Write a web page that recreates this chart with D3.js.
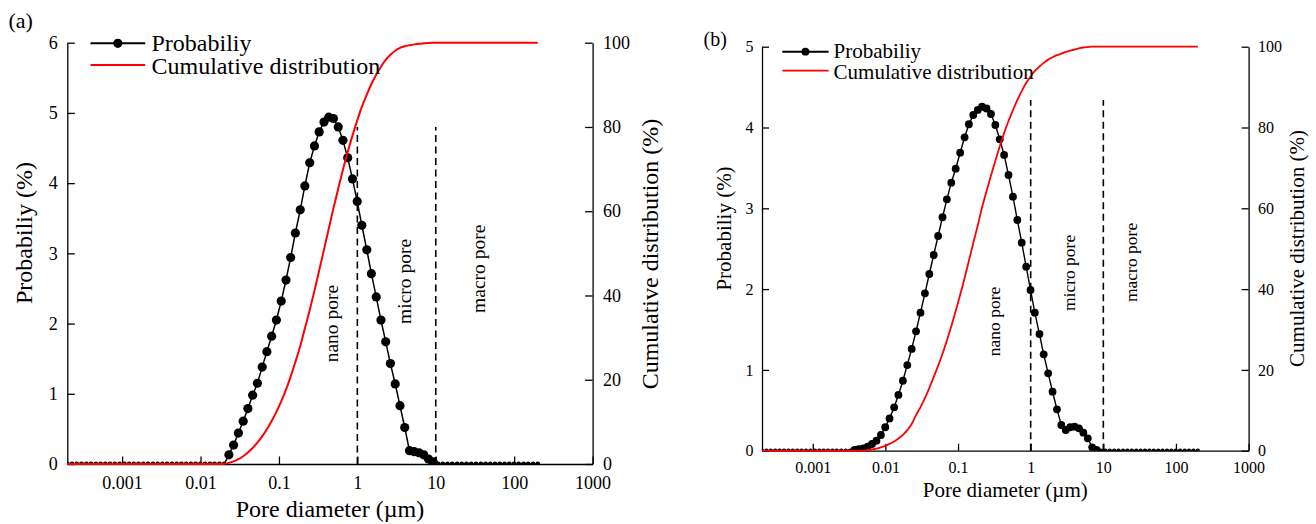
<!DOCTYPE html>
<html>
<head>
<meta charset="utf-8">
<script src="https://cdn.jsdelivr.net/npm/d3@7"></script>
<style>
  body { margin: 0; background: #fff; }
  svg { display: block; }
  text { font-family: "Liberation Serif", "Times New Roman", serif; fill: #000; }
</style>
</head>
<body>
<svg id="chart" width="1316" height="524"></svg>
<script>
// Pore-size bins (µm), 100 log-spaced bins shared by both samples
const poreDiameter = [
  0.0002, 0.00023, 0.000264, 0.000304, 0.00035, 0.000402, 0.000462, 0.000531, 0.000611, 0.000702,
  0.000807, 0.000928, 0.00107, 0.00123, 0.00141, 0.00162, 0.00187, 0.00214, 0.00247, 0.00284,
  0.00326, 0.00375, 0.00431, 0.00495, 0.0057, 0.00655, 0.00753, 0.00866, 0.00995, 0.0114,
  0.0132, 0.0151, 0.0174, 0.02, 0.023, 0.0264, 0.0304, 0.035, 0.0402, 0.0462,
  0.0531, 0.0611, 0.0702, 0.0807, 0.0928, 0.107, 0.123, 0.141, 0.162, 0.187,
  0.214, 0.247, 0.284, 0.326, 0.375, 0.431, 0.495, 0.57, 0.655, 0.753,
  0.866, 0.995, 1.14, 1.32, 1.51, 1.74, 2, 2.3, 2.64, 3.04,
  3.5, 4.02, 4.62, 5.31, 6.11, 7.02, 8.07, 9.28, 10.7, 12.3,
  14.1, 16.2, 18.7, 21.4, 24.7, 28.4, 32.6, 37.5, 43.1, 49.5,
  57, 65.5, 75.3, 86.6, 99.5, 114, 132, 151, 174, 200
];

// Sample (a): probability per bin (%)
const probabilityA = [
  0, 0, 0, 0, 0, 0, 0, 0, 0, 0,
  0, 0, 0, 0, 0, 0, 0, 0, 0, 0,
  0, 0, 0, 0, 0, 0, 0, 0, 0, 0,
  0, 0, 0, 0, 0.13, 0.27, 0.44, 0.61, 0.79, 0.98,
  1.15, 1.38, 1.60, 1.82, 2.05, 2.32, 2.62, 2.94, 3.29, 3.62,
  3.96, 4.29, 4.53, 4.73, 4.87, 4.94, 4.92, 4.80, 4.61, 4.36,
  4.06, 3.74, 3.40, 3.05, 2.71, 2.38, 2.05, 1.74, 1.43, 1.14,
  0.83, 0.52, 0.19, 0.175, 0.16, 0.13, 0.07, 0.03, 0, 0,
  0, 0, 0, 0, 0, 0, 0, 0, 0, 0,
  0, 0, 0, 0, 0, 0, 0, 0, 0, 0
];

// Sample (a): cumulative distribution (%)
const cumulativeA = [
  0, 0, 0, 0, 0, 0, 0, 0, 0, 0,
  0, 0, 0, 0, 0, 0, 0, 0, 0, 0,
  0, 0, 0, 0, 0, 0, 0, 0, 0, 0,
  0, 0, 0, 0.07, 0.27, 0.62, 1.15, 1.85, 2.73, 3.8,
  5.06, 6.55, 8.26, 10.2, 12.38, 14.85, 17.63, 20.75, 24.2, 28.0,
  32.15, 36.55, 41.15, 45.95, 50.85, 55.8, 60.65, 65.35, 69.85, 74.05,
  77.95, 81.5, 84.75, 87.65, 90.2, 92.4, 94.3, 95.9, 97.15, 98.1,
  98.75, 99.15, 99.4, 99.6, 99.75, 99.85, 99.95, 100, 100, 100,
  100, 100, 100, 100, 100, 100, 100, 100, 100, 100,
  100, 100, 100, 100, 100, 100, 100, 100, 100, 100
];

// Sample (b): probability per bin (%)
const probabilityB = [
  0, 0, 0, 0, 0, 0, 0, 0, 0, 0,
  0, 0, 0, 0, 0, 0, 0, 0, 0, 0,
  0, 0.01, 0.02, 0.03, 0.05, 0.083, 0.124, 0.194, 0.29, 0.40,
  0.537, 0.69, 0.866, 1.06, 1.26, 1.478, 1.708, 1.948, 2.187, 2.422,
  2.657, 2.889, 3.111, 3.317, 3.49, 3.688, 3.879, 4.04, 4.155, 4.217,
  4.257, 4.235, 4.167, 4.031, 3.854, 3.66, 3.412, 3.144, 2.855, 2.574,
  2.277, 1.989, 1.708, 1.444, 1.193, 0.958, 0.73, 0.512, 0.318, 0.256,
  0.29, 0.297, 0.277, 0.223, 0.153, 0.042, 0.01, 0, 0, 0,
  0, 0, 0, 0, 0, 0, 0, 0, 0, 0,
  0, 0, 0, 0, 0, 0, 0, 0, 0, 0
];

// Sample (b): cumulative distribution (%)
const cumulativeB = [
  0, 0, 0, 0, 0, 0, 0, 0, 0, 0,
  0, 0, 0, 0, 0, 0, 0, 0, 0, 0,
  0, 0, 0, 0.05, 0.15, 0.3, 0.5, 0.8, 1.2, 1.7,
  2.3, 3.0, 3.9, 5.1, 6.6, 8.8, 10.8, 13.0, 15.5, 18.2,
  21.0, 24.0, 27.3, 30.8, 34.6, 38.6, 42.7, 47.0, 51.4, 55.8,
  60.2, 64.3, 68.1, 71.8, 75.3, 78.6, 81.6, 84.3, 86.8, 89.0,
  91.0, 92.6, 94.0, 95.1, 96.0, 96.8, 97.4, 97.9, 98.3, 98.7,
  99.0, 99.3, 99.6, 99.8, 99.9, 100, 100, 100, 100, 100,
  100, 100, 100, 100, 100, 100, 100, 100, 100, 100,
  100, 100, 100, 100, 100, 100, 100, 100, 100, 100
];

const diameterTicks = [0.001, 0.01, 0.1, 1, 10, 100, 1000];
const diameterTickLabels = ["0.001", "0.01", "0.1", "1", "10", "100", "1000"];
const probabilityTicksA = [0, 1, 2, 3, 4, 5, 6];
const probabilityTicksB = [0, 1, 2, 3, 4, 5];
const cumulativeTicks = [0, 20, 40, 60, 80, 100];

// Pore classes: boundaries at 1 µm and 10 µm
const poreClassBounds = [1, 10];
const poreClassNames = ["nano pore", "micro pore", "macro pore"];
const seriesNames = ["Probabiliy", "Cumulative distribution"];
const xTitle = "Pore diameter (µm)";
const yTitleLeft = "Probabiliy (%)";
const yTitleRight = "Cumulative distribution (%)";

const panels = [
  {
    letter: "(a)", prob: probabilityA, cum: cumulativeA,
    probMax: 6, probTicks: probabilityTicksA, boundTop: 4.8,
    classLabelAt: [[0.5, 2.0], [4.2, 2.6], [37, 2.78]],
    box: { l: 67.3, r: 592.6, t: 42.7, b: 464 },
    tickFont: 18, titleFont: 24, classFont: 19.5, letterFont: 22,
    tickLen: 7.5, xPad: 12.5, yPadL: 9.5, yPadR: 10.5,
    dotR: 4.6, zeroR: 2.4, probW: 1.5, cumW: 2,
    letterPos: [8.4, 27.7],
    xTitlePos: 516.7, yTitleL: [31.6, 233], yTitleR: [657.5, 254],
    legend: { x1: 90.5, x2: 145.2, xt: 151.5, y1: 43.3, y2: 65, b1: 50.7, b2: 74 }
  },
  {
    letter: "(b)", prob: probabilityB, cum: cumulativeB,
    probMax: 5, probTicks: probabilityTicksB, boundTop: 4.34,
    classLabelAt: [[0.33, 1.6], [3.54, 2.2], [26, 2.33]],
    box: { l: 762, r: 1248.6, t: 46.7, b: 450.7 },
    tickFont: 16, titleFont: 21, classFont: 17.5, letterFont: 20,
    tickLen: 7, xPad: 10.6, yPadL: 8.4, yPadR: 9.5,
    dotR: 3.9, zeroR: 2.2, probW: 1.4, cumW: 1.8,
    letterPos: [703.6, 46],
    xTitlePos: 497.3, yTitleL: [731, 228.5], yTitleR: [1304, 248.5],
    legend: { x1: 782.3, x2: 828.6, xt: 833.6, y1: 51.7, y2: 70.7, b1: 58.3, b2: 79 }
  }
];

const svg = d3.select("#chart");
svg.append("rect").attr("width", 1316).attr("height", 524).attr("fill", "#fff");

panels.forEach((p, pi) => {
  const { l, r, t, b } = p.box;
  const x = d3.scaleLog().domain([0.0002, 1000]).range([l, r]);
  const yP = d3.scaleLinear().domain([0, p.probMax]).range([b, t]);
  const yC = d3.scaleLinear().domain([0, 100]).range([b, t]);
  const g = svg.append("g");

  const styleAxis = (sel, fs) => {
    sel.attr("font-family", '"Liberation Serif", "Times New Roman", serif').attr("font-size", fs);
    sel.selectAll("path.domain").attr("stroke", "#000").attr("stroke-width", 1.3);
    sel.selectAll(".tick line").attr("stroke", "#000").attr("stroke-width", 1.3);
    sel.selectAll(".tick text").attr("fill", "#000");
  };

  // axes (ticks point inward)
  g.append("g").attr("transform", `translate(0,${b})`)
    .call(d3.axisBottom(x).tickValues(diameterTicks)
      .tickFormat((d, i) => diameterTickLabels[i])
      .tickSizeInner(-p.tickLen).tickSizeOuter(0).tickPadding(p.xPad))
    .call(s => styleAxis(s, p.tickFont));

  g.append("g").attr("transform", `translate(${l},0)`)
    .call(d3.axisLeft(yP).tickValues(p.probTicks).tickFormat(d3.format("d"))
      .tickSizeInner(-p.tickLen).tickSizeOuter(0).tickPadding(p.yPadL))
    .call(s => styleAxis(s, p.tickFont));

  g.append("g").attr("transform", `translate(${r},0)`)
    .call(d3.axisRight(yC).tickValues(cumulativeTicks).tickFormat(d3.format("d"))
      .tickSizeInner(-p.tickLen).tickSizeOuter(0).tickPadding(p.yPadR))
    .call(s => styleAxis(s, p.tickFont));

  // pore-class boundaries
  g.selectAll("line.bound").data(poreClassBounds).join("line")
    .attr("class", "bound")
    .attr("x1", d => x(d)).attr("x2", d => x(d))
    .attr("y1", yP(0)).attr("y2", yP(p.boundTop))
    .attr("stroke", "#000").attr("stroke-width", 1.6)
    .attr("stroke-dasharray", "7,4.5");

  const clipId = "plotclip" + pi;
  svg.append("clipPath").attr("id", clipId).append("rect")
    .attr("x", l).attr("y", t - 20).attr("width", r - l).attr("height", b - t + 20);

  const rows = poreDiameter.map((d, i) => ({ d, prob: p.prob[i], cum: p.cum[i] }));

  // probability series
  const plot = g.append("g").attr("clip-path", `url(#${clipId})`);
  plot.append("path").datum(rows)
    .attr("fill", "none").attr("stroke", "#000").attr("stroke-width", p.probW)
    .attr("d", d3.line().x(d => x(d.d)).y(d => yP(d.prob)));
  plot.selectAll("circle").data(rows).join("circle")
    .attr("cx", d => x(d.d)).attr("cy", d => yP(d.prob))
    .attr("r", d => d.prob > 0 ? p.dotR : p.zeroR)
    .attr("fill", "#000");

  // cumulative distribution
  g.append("path").datum(rows)
    .attr("fill", "none").attr("stroke", "#ff0000").attr("stroke-width", p.cumW)
    .attr("d", d3.line().curve(d3.curveMonotoneX).x(d => x(d.d)).y(d => yC(d.cum)));

  // pore-class labels
  g.selectAll("text.cls").data(poreClassNames).join("text")
    .attr("class", "cls")
    .attr("transform", (d, i) => `translate(${x(p.classLabelAt[i][0])},${yP(p.classLabelAt[i][1])}) rotate(-90)`)
    .attr("text-anchor", "middle").attr("dominant-baseline", "middle")
    .attr("font-size", p.classFont)
    .text(d => d);

  // titles
  g.append("text").attr("x", (l + r) / 2).attr("y", p.xTitlePos)
    .attr("text-anchor", "middle").attr("font-size", p.titleFont).text(xTitle);
  g.append("text").attr("transform", `translate(${p.yTitleL[0]},${p.yTitleL[1]}) rotate(-90)`)
    .attr("text-anchor", "middle").attr("font-size", p.titleFont).text(yTitleLeft);
  g.append("text").attr("transform", `translate(${p.yTitleR[0]},${p.yTitleR[1]}) rotate(-90)`)
    .attr("text-anchor", "middle").attr("font-size", p.titleFont).text(yTitleRight);
  g.append("text").attr("x", p.letterPos[0]).attr("y", p.letterPos[1])
    .attr("font-size", p.letterFont).text(p.letter);

  // legend
  const lg = p.legend;
  g.append("line").attr("x1", lg.x1).attr("x2", lg.x2).attr("y1", lg.y1).attr("y2", lg.y1)
    .attr("stroke", "#000").attr("stroke-width", 2);
  g.append("circle").attr("cx", (lg.x1 + lg.x2) / 2).attr("cy", lg.y1).attr("r", p.dotR).attr("fill", "#000");
  g.append("line").attr("x1", lg.x1).attr("x2", lg.x2).attr("y1", lg.y2).attr("y2", lg.y2)
    .attr("stroke", "#ff0000").attr("stroke-width", p.cumW);
  g.append("text").attr("x", lg.xt).attr("y", lg.b1).attr("font-size", p.titleFont).text(seriesNames[0]);
  g.append("text").attr("x", lg.xt).attr("y", lg.b2).attr("font-size", p.titleFont).text(seriesNames[1]);
});
</script>
</body>
</html>
